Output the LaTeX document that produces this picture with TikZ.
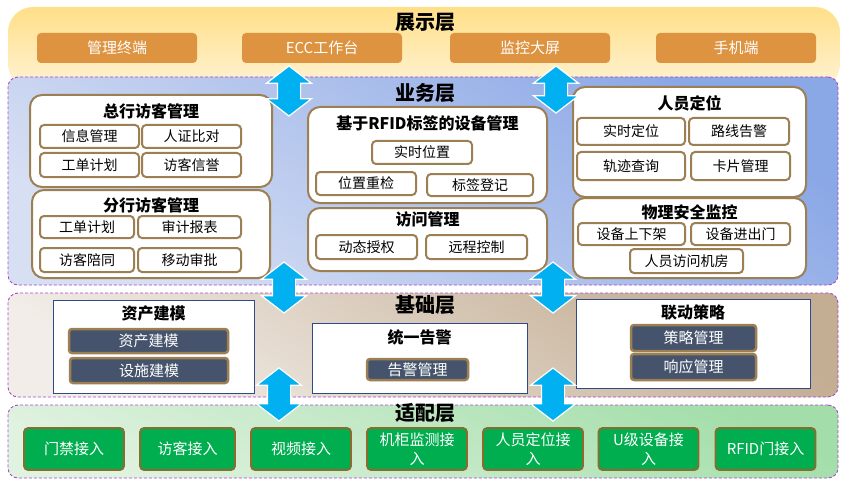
\documentclass[tikz,border=0pt]{standalone}
\usepackage{fontspec}
\setmainfont{Noto Sans CJK SC}
\usetikzlibrary{shapes.arrows}
\definecolor{dashc}{HTML}{A64BC8}
\definecolor{brn}{HTML}{9C7F52}
\definecolor{orng}{HTML}{DD9340}
\definecolor{slate}{HTML}{45546C}
\definecolor{pnl}{HTML}{2E4A8A}
\definecolor{grn}{HTML}{00AD4F}
\definecolor{gbrd}{HTML}{8B6B2E}
\definecolor{arrc}{HTML}{00B0F0}
\definecolor{shtop}{HTML}{FFDF88}
\definecolor{shbot}{HTML}{FFF3D6}
\definecolor{biztop}{HTML}{8AA7E6}
\definecolor{bizbot}{HTML}{D7DFF3}
\definecolor{bastop}{HTML}{C3AD93}
\definecolor{basbot}{HTML}{F2EDE8}
\definecolor{adptop}{HTML}{A3DEAA}
\definecolor{adpbot}{HTML}{E0F2E0}

\begin{document}
\begin{tikzpicture}[x=1pt,y=-1pt,
    every node/.style={inner sep=0pt,outer sep=0pt},
    layer/.style={draw=dashc,dash pattern=on 3pt off 2pt,line width=0.9pt,rounded corners=10pt},
    ltitle/.style={font=\fontsize{20}{22}\selectfont\bfseries},
    gtitle/.style={font=\fontsize{16}{18}\selectfont\bfseries},
    grp/.style={draw=brn,line width=2pt,fill=white,rounded corners=12pt},
    item/.style={draw=brn,line width=2pt,fill=white,rounded corners=4pt,minimum height=23,font=\fontsize{14}{16}\selectfont},
    obtn/.style={fill=orng,rounded corners=4pt,text=white,minimum width=160,minimum height=30,font=\fontsize{15}{17}\selectfont},
    panel/.style={draw=pnl,line width=0.8pt,fill=white},
    dbtn/.style={draw=brn,line width=2.5pt,fill=slate,rounded corners=3pt,text=white,font=\fontsize{15}{17}\selectfont},
    gbtn/.style={draw=gbrd,line width=1.8pt,fill=grn,rounded corners=4pt,text=white,minimum width=100,minimum height=42,align=center,font=\fontsize{15}{19}\selectfont},
    lnk/.style={double arrow,rotate=90,fill=arrc,draw=white,line width=1.2pt,inner xsep=0pt,inner ysep=11pt,minimum width=44,double arrow head extend=11,double arrow tip angle=105}
  ]
  \useasboundingbox (0,0) rectangle (858,497);

  % Presentation layer
  \node[top color=shtop,bottom color=shbot,rounded corners=25pt,minimum width=832,minimum height=82] (show) at (424,48) {};
  \node[ltitle] (tshow) at (425,22) {展示层};
  \node[obtn] (o1) at (117,48) {管理终端};
  \node[obtn] (o2) at (322,48) {ECC工作台};
  \node[obtn] (o3) at (530,48) {监控大屏};
  \node[obtn] (o4) at (736,48) {手机端};

  % Business layer
  \node[layer,top color=biztop,bottom color=bizbot,shading angle=-35,minimum width=830,minimum height=208] (biz) at (423,181) {};
  \node[ltitle] (tbiz) at (425,93) {业务层};

  % Visitor management
  \node[grp,minimum width=242,minimum height=92] (zh) at (151,141) {};
  \node[gtitle] at (151,111) {总行访客管理};
  \node[item,minimum width=99] (zh1) at (89.5,136.5) {信息管理};
  \node[item,minimum width=99] (zh2) at (191.5,136.5) {人证比对};
  \node[item,minimum width=99,minimum height=24] (zh3) at (89.5,165) {工单计划};
  \node[item,minimum width=99,minimum height=24] (zh4) at (191.5,165) {访客信誉};
  \node[grp,minimum width=238,minimum height=88] (fh) at (151,234) {};
  \node[gtitle] at (151,205) {分行访客管理};
  \node[item,minimum width=94,minimum height=22] (fh1) at (87,227) {工单计划};
  \node[item,minimum width=103,minimum height=22] (fh2) at (189.5,227) {审计报表};
  \node[item,minimum width=94,minimum height=24] (fh3) at (87,260) {访客陪同};
  \node[item,minimum width=103,minimum height=24] (fh4) at (189.5,260) {移动审批};

  % RFID devices and access
  \node[grp,minimum width=239,minimum height=96] (rfid) at (427.5,155) {};
  \node[gtitle] at (427.5,123) {基于RFID标签的设备管理};
  \node[item,minimum width=100] (rf1) at (422,152.5) {实时位置};
  \node[item,minimum width=100] (rf2) at (366,183.5) {位置重检};
  \node[item,minimum width=106,minimum height=22] (rf3) at (480,185) {标签登记};
  \node[grp,minimum width=239,minimum height=63] (fw) at (427.5,239.5) {};
  \node[gtitle] at (427.5,219) {访问管理};
  \node[item,minimum width=101,minimum height=24] (fw1) at (366.5,247) {动态授权};
  \node[item,minimum width=101,minimum height=24] (fw2) at (476.5,247) {远程控制};

  % Staff location and physical security
  \node[grp,minimum width=233,minimum height=110] (ry) at (689.5,142) {};
  \node[gtitle] at (689.5,103) {人员定位};
  \node[item,minimum width=108,minimum height=27] (ry1) at (631,131.5) {实时定位};
  \node[item,minimum width=100,minimum height=27] (ry2) at (739,131.5) {路线告警};
  \node[item,minimum width=108,minimum height=28] (ry3) at (631,166) {轨迹查询};
  \node[item,minimum width=99,minimum height=28] (ry4) at (740.5,166) {卡片管理};
  \node[grp,minimum width=233,minimum height=80] (wl) at (689.5,238) {};
  \node[gtitle] at (689.5,212) {物理安全监控};
  \node[item,minimum width=107,minimum height=22] (wl1) at (631.5,234) {设备上下架};
  \node[item,minimum width=99,minimum height=22] (wl2) at (740.5,234) {设备进出门};
  \node[item,minimum width=113,minimum height=24] (wl3) at (686.5,261) {人员访问机房};

  % Base layer
  \node[layer,top color=bastop,bottom color=basbot,shading angle=-35,minimum width=830,minimum height=104] (base) at (423,345) {};
  \node[ltitle] (tbase) at (425,305) {基础层};
  \node[panel,minimum width=201,minimum height=93] (zc) at (153.5,346.5) {};
  \node[gtitle] at (153.5,313) {资产建模};
  \node[dbtn,minimum width=159,minimum height=24] (zc1) at (148.5,341) {资产建模};
  \node[dbtn,minimum width=158,minimum height=25] (zc2) at (149,370.5) {设施建模};
  \node[panel,minimum width=215,minimum height=70] (gj) at (419.5,358) {};
  \node[gtitle] at (419.5,337) {统一告警};
  \node[dbtn,minimum width=101,minimum height=21] (gj1) at (417.5,369.5) {告警管理};
  \node[panel,minimum width=234,minimum height=89] (ld) at (693,343.5) {};
  \node[gtitle] at (693,312) {联动策略};
  \node[dbtn,minimum width=125,minimum height=26] (ld1) at (693.5,338) {策略管理};
  \node[dbtn,minimum width=125,minimum height=26] (ld2) at (693.5,367) {响应管理};

  % Adaptation layer
  \node[layer,top color=adptop,bottom color=adpbot,shading angle=-25,minimum width=830,minimum height=73] (adapt) at (423,441.5) {};
  \node[ltitle] (tadapt) at (425,413) {适配层};
  \node[gbtn] (g1) at (74,449) {门禁接入};
  \node[gbtn,minimum width=95] (g2) at (187.5,449) {访客接入};
  \node[gbtn] (g3) at (301,449) {视频接入};
  \node[gbtn] (g4) at (417,449) {机柜监测接\\入};
  \node[gbtn] (g5) at (533,449) {人员定位接\\入};
  \node[gbtn] (g6) at (648.5,449) {U级设备接\\入};
  \node[gbtn] (g7) at (765.5,449) {RFID门接入};

  % Links between layers
  \node[lnk,minimum height=50] (a1) at (289,91) {};
  \node[lnk,minimum height=47] (a2) at (556,89.5) {};
  \node[lnk,minimum height=51] (a3) at (284,287.5) {};
  \node[lnk,minimum height=51] (a4) at (553,287.5) {};
  \node[lnk,minimum height=53] (a5) at (279,394.5) {};
  \node[lnk,minimum height=53] (a6) at (553,394.5) {};
\end{tikzpicture}
\end{document}
